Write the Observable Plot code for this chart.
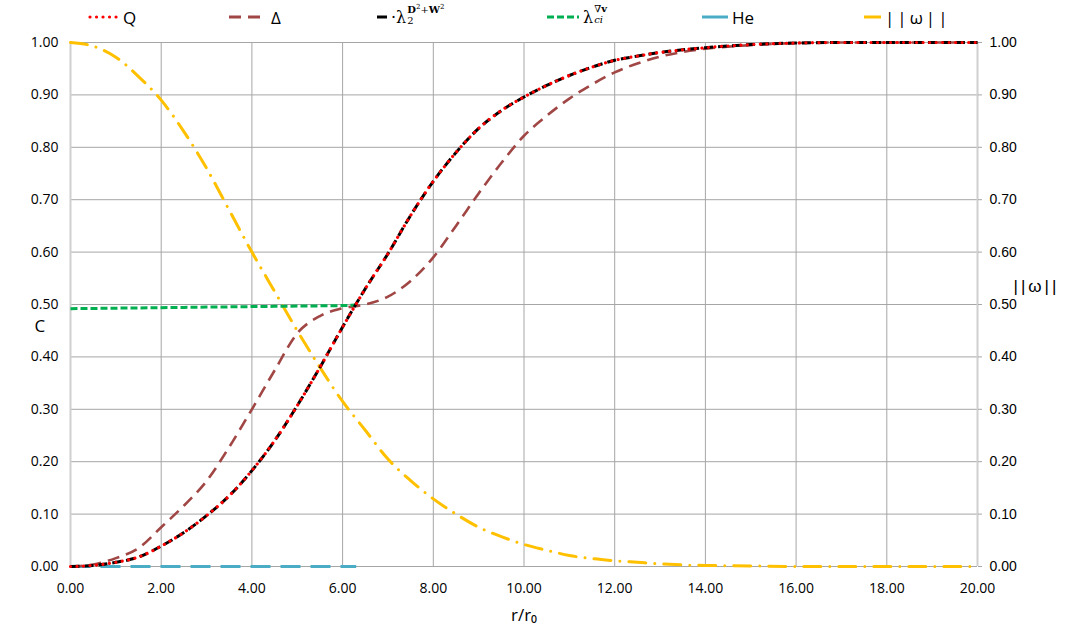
<!DOCTYPE html>
<html>
<head>
<meta charset="utf-8">
<script src="https://cdn.jsdelivr.net/npm/d3@7"></script>
<script src="https://cdn.jsdelivr.net/npm/@observablehq/plot@0.6"></script>
<style>
  body { margin: 0; background: #fff; font-family: "Open Sans", sans-serif; }
  #legend { position: relative; width: 1066px; height: 28px; }
  .item { position: absolute; top: 0; height: 34px; display: flex; align-items: center; font-size: 17px; color: #000; }
  .item svg { margin-right: 4px; }
  .math { font-family: "DejaVu Serif", serif; font-size: 16px; display: flex; align-items: center; }
  .stack { display: inline-flex; flex-direction: column; font-size: 10px; line-height: 11px; margin-left: 1px; }
  .stack .sup { margin-top: -6px; }
  .stack .sub { margin-top: 0px; }
  .norm { letter-spacing: 3px; }
</style>
</head>
<body>
<div id="legend"></div>
<div id="chart"></div>
<script>
// ---- data ----
const rFine = [0,0.5,1,1.5,2,2.5,3,3.5,4,4.5,5,5.5,6,6.5,7,7.5,8,8.5,9,9.5,10,10.5,11,11.5,12,12.5,13,13.5,14,15,16,17,18,19,20];
const qValues = [0,0.002,0.008,0.018,0.039,0.065,0.097,0.135,0.183,0.24,0.307,0.38,0.457,0.53,0.597,0.67,0.735,0.79,0.836,0.87,0.896,0.918,0.937,0.953,0.966,0.974,0.981,0.986,0.990,0.996,0.999,1,1,1,1];
const lambda2Values = [0,0.002,0.008,0.018,0.039,0.065,0.097,0.135,0.183,0.24,0.307,0.38,0.457,0.53,0.597,0.67,0.735,0.79,0.836,0.87,0.896,0.918,0.937,0.953,0.966,0.974,0.981,0.986,0.990,0.996,0.999,1,1,1,1];
const deltaValues = [0,0.004,0.016,0.035,0.075,0.116,0.163,0.228,0.30,0.374,0.445,0.478,0.493,0.500,0.515,0.545,0.59,0.65,0.712,0.77,0.822,0.86,0.893,0.92,0.943,0.96,0.973,0.982,0.988,0.995,0.999,1,1,1,1];
const omegaValues = [1,0.993,0.972,0.935,0.89,0.83,0.76,0.68,0.60,0.525,0.45,0.38,0.315,0.26,0.205,0.164,0.129,0.10,0.075,0.057,0.042,0.031,0.021,0.015,0.011,0.008,0.005,0.003,0.002,0.001,0,0,0,0,0];
const rCore = [0,1,2,3,4,5,6,6.3];
const lambdaCiValues = [0.492,0.493,0.494,0.495,0.496,0.497,0.498,0.499];
const heValues = [0,0,0,0,0,0,0,0];
const xTicks = [0,2,4,6,8,10,12,14,16,18,20];
const yTicks = [0,0.1,0.2,0.3,0.4,0.5,0.6,0.7,0.8,0.9,1.0];

const toRows = (xs, ys) => xs.map((x, i) => ({x, y: ys[i]}));

// ---- series styles ----
const series = [
  {key: "lambda2", rows: toRows(rFine, lambda2Values), stroke: "#000000", width: 3, dash: "9 5", cap: "butt"},
  {key: "Q", rows: toRows(rFine, qValues), stroke: "#ff0000", width: 3.2, dash: "0.01 6.5", cap: "round"},
  {key: "delta", rows: toRows(rFine, deltaValues), stroke: "#a04644", width: 2.6, dash: "12 7", cap: "butt"},
  {key: "ci", rows: toRows(rCore, lambdaCiValues), stroke: "#00b050", width: 3, dash: "7 3", cap: "butt"},
  {key: "He", rows: toRows(rCore, heValues), stroke: "#4bacc6", width: 3, dash: "20 10", cap: "butt"},
  {key: "omega", rows: toRows(rFine, omegaValues), stroke: "#ffc000", width: 3, dash: "17 9 0.01 9", cap: "round"}
];
const drawOrder = ["He", "omega", "delta", "ci", "lambda2", "Q"];

// ---- legend ----
const legend = document.getElementById("legend");
function swatch(color, dash, cap, w, len) {
  return `<svg width="${len}" height="10"><line x1="${cap==='round'?2:0}" y1="5" x2="${len-(cap==='round'?2:0)}" y2="5" stroke="${color}" stroke-width="${w}" stroke-dasharray="${dash}" stroke-linecap="${cap}"/></svg>`;
}
const legendItems = [
  {left: 88, html: swatch("#ff0000", "0.01 6.5", "round", 3.2, 31) + `<span>Q</span>`},
  {left: 229, html: swatch("#a04644", "12 7", "butt", 3, 38) + `<span>Δ</span>`},
  {left: 377, html: swatch("#000000", "", "butt", 3, 10) + `<span class="math">·λ<span class="stack"><span class="sup"><b>D</b><sup style="font-size:7px">2</sup>+<b>W</b><sup style="font-size:7px">2</sup></span><span class="sub">2</span></span></span>`},
  {left: 547, html: swatch("#00b050", "7 3", "butt", 3, 32) + `<span class="math">λ<span class="stack"><span class="sup">∇<b>v</b></span><span class="sub"><i>ci</i></span></span></span>`},
  {left: 702, html: swatch("#4bacc6", "", "butt", 3, 26) + `<span>He</span>`},
  {left: 864, html: swatch("#ffc000", "", "butt", 3, 17) + `<span class="norm">||ω||</span>`}
];
for (const it of legendItems) {
  const d = document.createElement("div");
  d.className = "item";
  d.style.left = it.left + "px";
  d.innerHTML = it.html;
  legend.appendChild(d);
}

// ---- chart ----
const lineMarks = drawOrder.map(k => {
  const s = series.find(d => d.key === k);
  return Plot.line(s.rows, {x: "x", y: "y", stroke: s.stroke, strokeWidth: s.width,
    strokeDasharray: s.dash, strokeLinecap: s.cap, curve: "monotone-x"});
});

const chart = Plot.plot({
  width: 1066,
  height: 608,
  marginTop: 14,
  marginBottom: 70,
  marginLeft: 70,
  marginRight: 89,
  style: {fontFamily: "'Open Sans', sans-serif", fontSize: "14px", color: "#000", background: "#fff", overflow: "visible"},
  x: {domain: [0, 20]},
  y: {domain: [0, 1]},
  marks: [
    Plot.gridY(yTicks, {stroke: "#a6a6a6", strokeOpacity: 1, strokeWidth: 1}),
    Plot.gridX(xTicks, {stroke: "#a6a6a6", strokeOpacity: 1, strokeWidth: 1}),
    Plot.ruleX([0, 20], {stroke: "#cfcfcf", strokeWidth: 2}),
    Plot.axisY(yTicks, {anchor: "left", tickSize: 0, tickPadding: 12, tickFormat: d => d.toFixed(2), label: null, fontSize: 14}),
    Plot.axisY(yTicks, {anchor: "right", tickSize: 4, tickPadding: 8, tickFormat: d => d.toFixed(2), label: null, fontSize: 14, fontFamily: "'Liberation Sans', Arial, sans-serif", stroke: "#a6a6a6"}),
    Plot.axisX(xTicks, {anchor: "bottom", tickSize: 0, tickPadding: 17, tickFormat: d => d.toFixed(2), label: null, fontSize: 14}),
    ...lineMarks,
    Plot.text(["C"], {frameAnchor: "left", dx: -36, dy: 22, fontSize: 17, textAnchor: "start"}),
    Plot.text(["||ω||"], {frameAnchor: "right", dx: 36, dy: -18, fontSize: 17, textAnchor: "start", fontFamily: "'Liberation Sans', Arial, sans-serif"}),
    Plot.text(["r/r₀"], {frameAnchor: "bottom", dy: 54, fontSize: 17})
  ]
});
d3.select(chart).selectAll("text").filter(function() { return this.textContent === "||ω||"; })
  .style("letter-spacing", "3px");
document.getElementById("chart").appendChild(chart);
</script>
</body>
</html>
